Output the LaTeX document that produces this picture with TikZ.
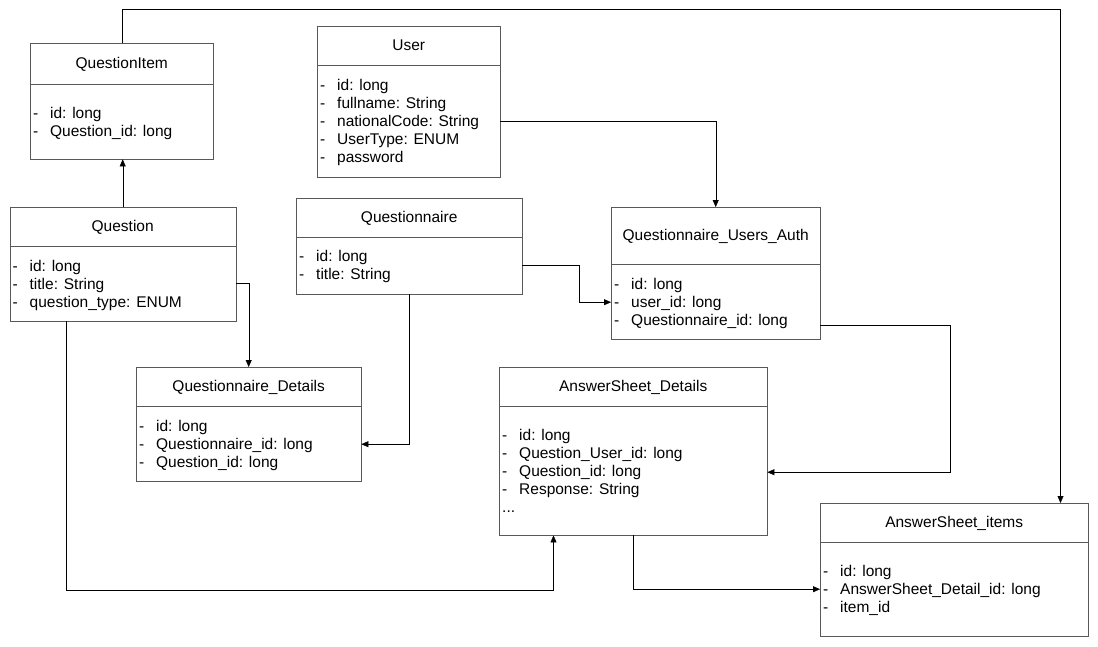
\documentclass[tikz,border=0pt]{standalone}
\usepackage{fontspec}
\setmainfont{Liberation Sans}
\usetikzlibrary{arrows.meta, calc}
\tikzset{
    box/.style={rectangle, draw=black!65, fill=white, inner sep=0pt},
    boxline/.style={draw=black!65},
    boxtitle/.style={font=\fontsize{15.5}{18}\selectfont, inner sep=0pt, text height=10pt, text depth=3pt},
    boxattr/.style={font=\fontsize{15.5}{18}\selectfont, inner sep=0pt, anchor=west, text height=10pt, text depth=3pt},
    link/.style={-{Triangle[length=7pt, width=6pt]}, black}
}
% one dash-prefixed attribute line
\newcommand{\attr}[1]{\makebox[17pt][l]{-}#1}
\newcommand{\more}{...}
% name, left, top, width, height, title height, title, first line offset, attributes
\newcommand{\umlbox}[9]{%
  \node[box, minimum width=#4, minimum height=#5, anchor=north west] (#1) at (#2,-#3) {};
  \node[boxtitle] at ($(#1.north)+(0,-#6/2-1.5)$) {#7};
  \draw[boxline] ($(#1.north west)+(0,-#6)$) -- ($(#1.north east)+(0,-#6)$);
  \foreach \line [count=\i] in {#9}
    \node[boxattr] at ($(#1.north west)+(3,-#8-18*\i+16)$) {\line};
}

\begin{document}
\begin{tikzpicture}[x=1pt, y=1pt]
\useasboundingbox (0,0) rectangle (1098,-646);

% Classes
\umlbox{qitem}{30}{43}{183}{116}{41}{QuestionItem}{70}{\attr{id: long}, \attr{Question\_id: long}}
\umlbox{question}{9.5}{207}{226}{114}{39}{Question}{59}{\attr{id: long}, \attr{title: String}, \attr{question\_type: ENUM}}
\umlbox{user}{317}{26}{183}{151}{39}{User}{59}{\attr{id: long}, \attr{fullname: String}, \attr{nationalCode: String}, \attr{UserType: ENUM}, \attr{password}}
\umlbox{qnaire}{296}{198}{226}{96}{39}{Questionnaire}{58}{\attr{id: long}, \attr{title: String}}
\umlbox{qua}{611}{207}{209}{132}{57}{Questionnaire\_Users\_Auth}{77}{\attr{id: long}, \attr{user\_id: long}, \attr{Questionnaire\_id: long}}
\umlbox{qdetails}{136}{367}{225}{114}{39}{Questionnaire\_Details}{59}{\attr{id: long}, \attr{Questionnaire\_id: long}, \attr{Question\_id: long}}
\umlbox{asdetails}{499}{367}{268}{168}{39}{AnswerSheet\_Details}{68}{\attr{id: long}, \attr{Question\_User\_id: long}, \attr{Question\_id: long}, \attr{Response: String}, \more}
\umlbox{asitems}{820}{503}{268}{133}{39}{AnswerSheet\_items}{68}{\attr{id: long}, \attr{AnswerSheet\_Detail\_id: long}, \attr{item\_id}}

% Helper points
\coordinate (toprow) at (1060.5,-9.5);
\coordinate (qlow) at (553.5,-590.5);

% Connectors
\draw[link] ([xshift=0.5]qitem.north) |- (toprow) -- (toprow |- asitems.north);
\draw[link] (question.north) -- (question.north |- qitem.south);
\draw[link] ([yshift=-19.5]user.east) -| (qua.north);
\draw[link] ([yshift=-19]qnaire.east) -- ++(56.5,0) |- ([yshift=-29]qua.west);
\draw[link] ([yshift=-19]question.east) -| (qdetails.north);
\draw[link] (qnaire.south) |- ([yshift=-20]qdetails.east);
\draw[link] ([xshift=-57]question.south) |- (qlow) -- (qlow |- asdetails.south);
\draw[link] ([yshift=-52]qua.east) -- ++(129.5,0) |- ([yshift=-21]asdetails.east);
\draw[link] (asdetails.south) |- ([yshift=-19.5]asitems.west);

\end{tikzpicture}
\end{document}
